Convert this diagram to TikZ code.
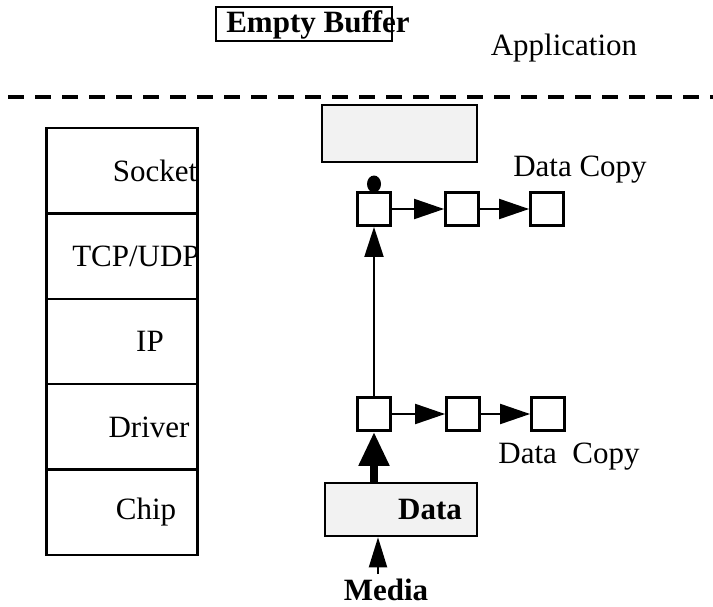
\documentclass[tikz,border=0pt]{standalone}
\usepackage{fontspec}
\setmainfont{Liberation Serif}
\usetikzlibrary{arrows.meta,calc,shapes.geometric}

\begin{document}
\begin{tikzpicture}[x=.5pt,y=-.5pt,font=\fontsize{15.5}{18}\selectfont,
  every node/.style={inner sep=0pt},
  bold/.style={font=\fontsize{15.5}{18}\selectfont\bfseries},
  cell/.style={draw,line width=1.2pt,minimum width=75.5pt,minimum height=42.7pt},
  buf/.style={draw,line width=1.4pt,minimum size=16.5pt},
  pool/.style={draw,line width=1.3pt,fill=gray!10},
  link/.style={line width=1pt,-{Triangle[length=15pt,width=10pt]}}]
\useasboundingbox (0,0) rectangle (713,606);

% user space
\node[draw,line width=1.2pt,minimum width=88pt,minimum height=17pt] (empty) at (304,24) {};
\node[bold] (emptyl) at (318,25) {Empty Buffer};
\node (app) at (564,48) {Application};
\coordinate (sepl) at (8,97); \coordinate (sepr) at (713,97);
\draw[line width=2pt,dash pattern=on 8pt off 5.5pt] (sepl) -- (sepr);

% protocol stack
\foreach \n/\t/\dx [count=\i] in {sock/Socket/33,tcp/{TCP/UDP}/14,ip/IP/28,drv/Driver/27,chip/Chip/24}{
  \node (\n-l) at (122+\dx,{128+85.4*(\i-.5)}) {\t};
  \node[cell] (\n) at (122,{128+85.4*(\i-.5)}) {};
}

% kernel buffers
\node[pool,minimum width=77.5pt,minimum height=28.5pt] (top) at (399.5,133.5) {};
\node[fill,ellipse,minimum width=7pt,minimum height=8.5pt] (dot) at (374,184) {};
\node[buf] (u1) at (374,209) {};
\node[buf] (u2) at (462,209) {};
\node[buf] (u3) at (547,209) {};
\node (copyu) at (580,170) {Data Copy};
\node[buf] (d1) at (374,414) {};
\node[buf] (d2) at (463,414) {};
\node[buf] (d3) at (548,414) {};
\node (copyd) at (569,457) {Data~~Copy};
\node[pool,minimum width=76pt,minimum height=26.5pt] (data) at (401,509.5) {};
\node[bold] (datal) at (430,509) {Data};
\node[bold] (media) at (386,590) {Media};
\coordinate (mtail) at (378,574);

\draw[link] (u1) -- (u2);
\draw[link] (u2) -- (u3);
\draw[link] (d1) -- (d2);
\draw[link] (d2) -- (d3);
\draw[line width=1pt,-{Triangle[length=15pt,width=9.5pt]}] (d1) -- (u1);
\draw[line width=4pt,-{Triangle[length=17pt,width=14.5pt]}] (data.north -| d1) -- (d1);
\draw[line width=1pt,-{Triangle[length=15pt,width=9pt]}] (mtail) -- (mtail |- data.south);
\end{tikzpicture}
\end{document}
